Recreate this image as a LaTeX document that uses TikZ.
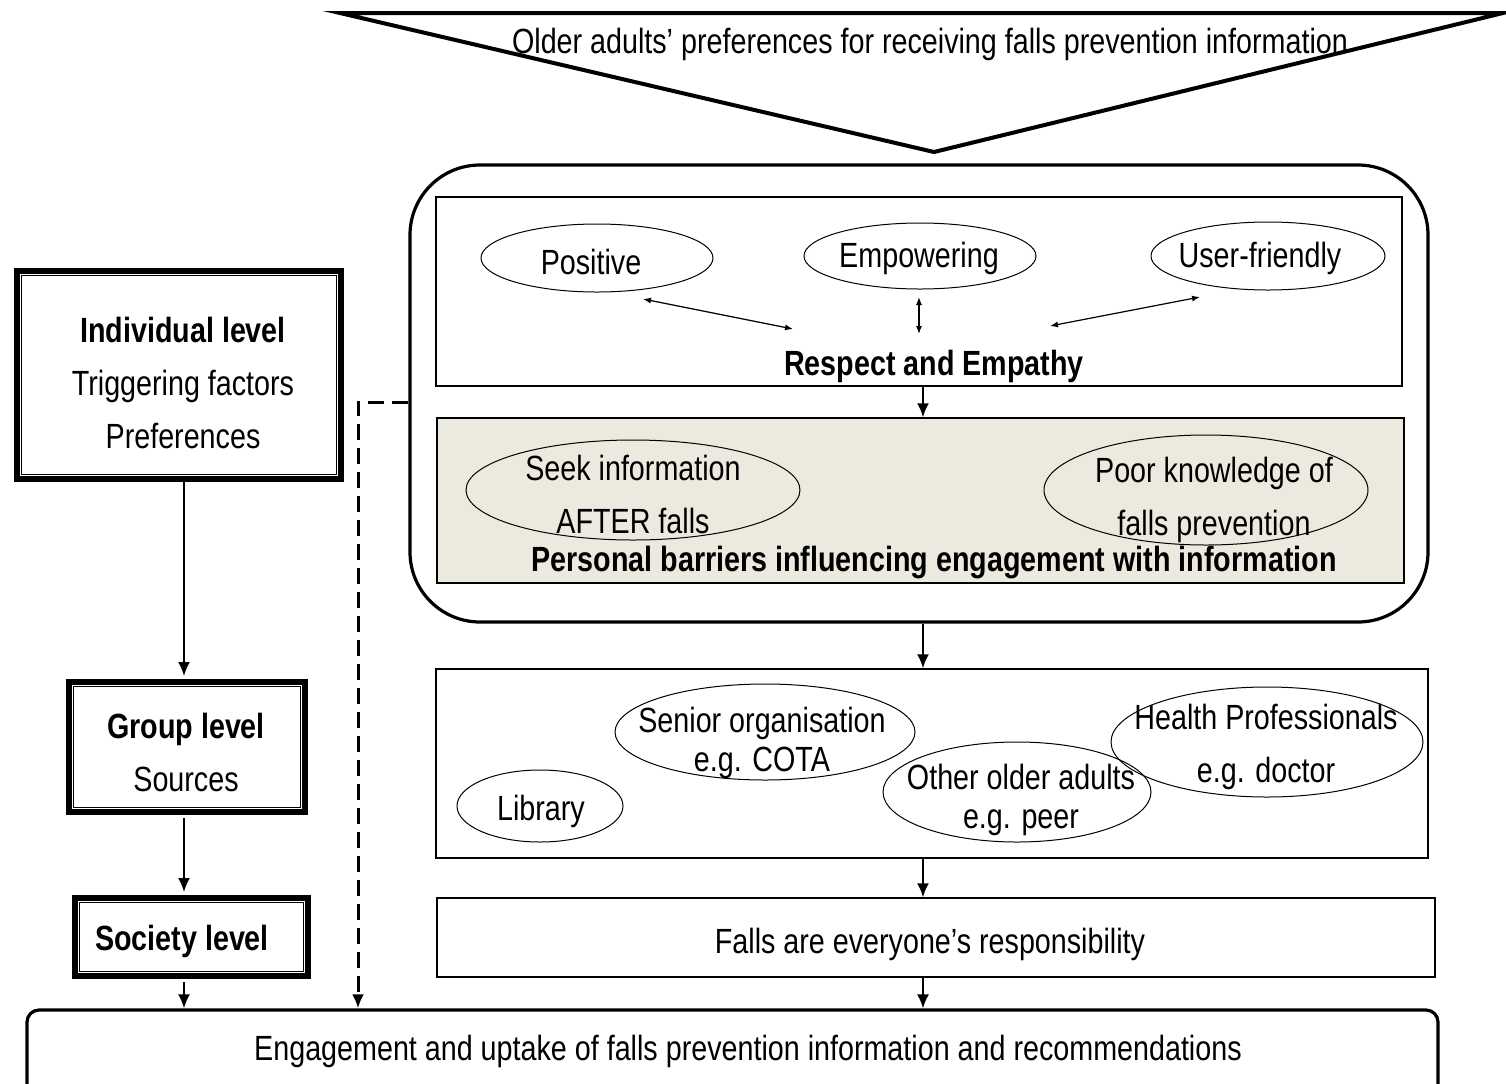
\documentclass[tikz,border=0pt]{standalone}
\usepackage{fontspec}
\setmainfont{Liberation Sans}[FakeStretch=0.82]
\usetikzlibrary{arrows.meta,shapes.geometric,positioning}
\definecolor{barrierfill}{RGB}{236,233,223}

\begin{document}
\begin{tikzpicture}[x=0.5pt, y=-0.5pt, font=\fontsize{17.5}{26.5}\selectfont]
    \tikzstyle{oval}=[shape=ellipse, draw, line width=0.5pt, inner sep=0pt];
    \tikzstyle{panel}=[shape=rectangle, draw, line width=0.7pt, inner sep=0pt];
    \tikzstyle{level}=[shape=rectangle, draw, line width=3pt, inner sep=0pt];
    \tikzstyle{tight}=[align=center, font=\fontsize{17.5}{19.5}\selectfont];
    \tikzstyle{flow}=[-{Latex[length=7pt,width=6pt]}, line width=1pt];
    \tikzstyle{link}=[{Latex[length=4pt,width=3pt]}-{Latex[length=4pt,width=3pt]}, line width=0.6pt];

    \useasboundingbox (0,0) rectangle (1506,1083);

    % preferences triangle
    \draw[line width=2pt, line join=miter] (340,13) -- (1503,13) -- (934,152) -- cycle;
    \node (title) at (930,44) {Older adults’ preferences for receiving falls prevention information};

    % left column: levels
    \node[level, minimum width=162pt, minimum height=104pt] (indiv) at (179,375) {};
    \node[level, minimum width=118pt, minimum height=65pt] (group) at (187,747) {};
    \node[level, minimum width=116.5pt, minimum height=39pt] (society) at (191.5,937) {};
    \foreach \n in {indiv,group,society}
        \draw[line width=0.7pt] ([shift={(3.7pt,-3.7pt)}]\n.north west) rectangle ([shift={(-3.7pt,3.7pt)}]\n.south east);
    \node[align=center] at (183,383) {\textbf{Individual level}\\Triggering factors\\Preferences};
    \node[align=center] at (186,752) {\textbf{Group level}\\Sources};
    \node at (182,941) {\textbf{Society level}};

    % right column
    \node[draw, line width=1.6pt, rounded corners=35pt, minimum width=509pt, minimum height=228.5pt] (frame) at (919,393.5) {};
    \node[panel, minimum width=483pt, minimum height=94.5pt] (respbox) at (919,291.5) {};
    \node[oval, minimum width=116pt, minimum height=34pt] (pos) at (597,258) {};
    \node at (591,262) {Positive};
    \node[oval, minimum width=116pt, minimum height=33pt] (emp) at (920,256) {};
    \node at (919,258) {Empowering};
    \node[oval, minimum width=117pt, minimum height=34pt] (user) at (1268,256) {};
    \node at (1260,258) {User-friendly};
    \node (resp) at (934,366) {\textbf{Respect and Empathy}};

    \coordinate (posend) at (643,299);
    \coordinate (posmid) at (793,329);
    \coordinate (empend) at (919,297);
    \coordinate (empmid) at (919,334);
    \coordinate (userend) at (1200,297);
    \coordinate (usermid) at (1050,326);
    \draw[link] (posend) -- (posmid);
    \draw[link] (empend) -- (empmid);
    \draw[link] (userend) -- (usermid);

    \node[panel, fill=barrierfill, minimum width=483.5pt, minimum height=82.5pt] (barbox) at (920.5,500.5) {};
    \node[oval, minimum width=167pt, minimum height=50pt] (seek) at (633,490) {};
    \node[align=center] at (633,494) {Seek information\\AFTER falls};
    \node[oval, minimum width=162pt, minimum height=55pt] (poor) at (1206,490) {};
    \node[align=center] at (1214,500) {Poor knowledge of\\falls prevention};
    \node (barrier) at (934,563) {\textbf{Personal barriers influencing engagement with information}};

    \node[panel, minimum width=496pt, minimum height=94.5pt] (srcbox) at (932,763.5) {};
    \node[oval, minimum width=83pt, minimum height=36pt] (library) at (540,806) {};
    \node at (541,811) {Library};
    \node[oval, minimum width=150pt, minimum height=48pt] (senior) at (765,732) {};
    \node[tight] at (762,743) {Senior organisation\\e.g. COTA};
    \node[oval, minimum width=134pt, minimum height=50pt] (other) at (1017,792) {};
    \node[tight] at (1021,800) {Other older adults\\e.g. peer};
    \node[oval, minimum width=156pt, minimum height=55pt] (health) at (1267,742) {};
    \node[align=center] at (1266,747) {Health Professionals\\e.g. doctor};

    \node[panel, minimum width=499pt, minimum height=39.5pt] (fallsbox) at (936,937.5) {};
    \node (falls) at (930,944) {Falls are everyone’s responsibility};

    % outcome
    \node[draw, line width=1.6pt, rounded corners=6pt, minimum width=705.5pt, minimum height=45pt] (eng) at (732.5,1055) {};
    \node (engtext) at (748,1051) {Engagement and uptake of falls prevention information and recommendations};

    % flow arrows
    \coordinate (spine) at (923,0);
    \draw[flow] (respbox.south -| spine) -- (barbox.north -| spine);
    \draw[flow] (frame.south -| spine) -- (srcbox.north -| spine);
    \draw[flow] (srcbox.south -| spine) -- (fallsbox.north -| spine);
    \draw[flow] (fallsbox.south -| spine) -- (eng.north -| spine);

    \coordinate (left) at (184,0);
    \draw[flow] (indiv.south -| left) -- ([yshift=1.5pt]group.north -| left);
    \draw[flow] ([yshift=-1.5pt]group.south -| left) -- ([yshift=1.5pt]society.north -| left);
    \draw[flow] ([yshift=-1.5pt]society.south -| left) -- (eng.north -| left);

    \coordinate (dashx) at (358,0);
    \draw[flow, line width=1.5pt, dash pattern=on 8pt off 4pt] ([yshift=-4.25pt]frame.west) -| (eng.north -| dashx);
\end{tikzpicture}
\end{document}
